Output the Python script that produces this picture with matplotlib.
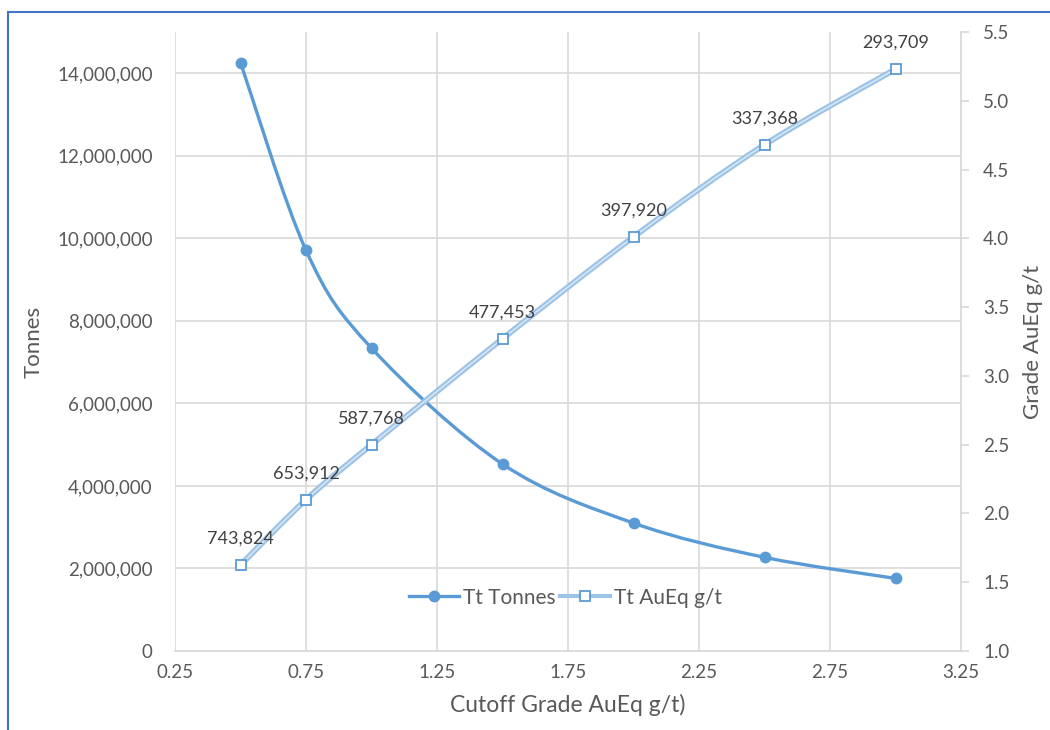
import matplotlib.pyplot as plt
import numpy as np
from matplotlib.path import Path
from matplotlib.patches import PathPatch
from matplotlib.lines import Line2D
from matplotlib.ticker import FuncFormatter

# data
cutoff = [0.5, 0.75, 1.0, 1.5, 2.0, 2.5, 3.0]
tonnes = [14260000, 9710000, 7340000, 4530000, 3100000, 2270000, 1760000]
grade = [1.625, 2.10, 2.50, 3.27, 4.01, 4.68, 5.23]
ounces = ["743,824", "653,912", "587,768", "477,453", "397,920", "337,368", "293,709"]

plt.rcParams['font.family'] = ['Lato', 'DejaVu Sans']
grey = '#595959'
gridc = '#D9D9D9'
blue = '#5B9BD5'
light = '#9DC3E6'


def smooth_path(x, y):
    # excel style smoothed line: cubic bezier through the points
    p = np.column_stack([x, y]).astype(float)
    verts = [p[0]]
    codes = [Path.MOVETO]
    n = len(p)
    for i in range(n - 1):
        p0 = p[i - 1] if i > 0 else p[i]
        p3 = p[i + 2] if i + 2 < n else p[i + 1]
        c1 = p[i] + (p[i + 1] - p0) / 6.0
        c2 = p[i + 1] - (p3 - p[i]) / 6.0
        verts += [c1, c2, p[i + 1]]
        codes += [Path.CURVE4] * 3
    return Path(verts, codes)


fig = plt.figure(figsize=(10.5, 7.3), dpi=100)
ax = fig.add_axes([175 / 1050, 1 - 651 / 730, 786 / 1050, 619 / 730])
ax2 = ax.twinx()

ax.set_xlim(0.25, 3.25)
ax.set_ylim(0, 15000000)
ax2.set_ylim(1.0, 5.5)

ax.set_xticks(np.arange(0.25, 3.26, 0.5))
ax.xaxis.set_major_formatter(FuncFormatter(lambda v, p: f"{v:.2f}"))
ax.set_yticks(np.arange(0, 14000001, 2000000))
ax.yaxis.set_major_formatter(FuncFormatter(lambda v, p: f"{v:,.0f}"))
ax2.set_yticks(np.arange(1.0, 5.51, 0.5))
ax2.yaxis.set_major_formatter(FuncFormatter(lambda v, p: f"{v:.1f}"))

ax.grid(True, color=gridc, lw=1.2)
ax.set_axisbelow(True)
for s in ['top', 'left', 'right']:
    ax.spines[s].set_visible(False)
    ax2.spines[s].set_visible(False)
ax.spines['bottom'].set_color(gridc)
ax.spines['bottom'].set_linewidth(1.2)
ax2.spines['bottom'].set_visible(False)
ax2.spines['right'].set_visible(True)
ax2.spines['right'].set_color(gridc)
ax2.spines['right'].set_linewidth(1.2)

ax.tick_params(axis='y', length=0, pad=16, labelsize=13.5, labelcolor=grey)
ax.tick_params(axis='x', length=0, pad=9, labelsize=13.5, labelcolor=grey)
ax2.tick_params(axis='y', length=6, width=1.2, color=gridc, pad=10, labelsize=13.5, labelcolor=grey)

ax.set_xlabel("Cutoff Grade AuEq g/t)", fontsize=16.5, color=grey, labelpad=10)
ax.set_ylabel("Tonnes", fontsize=16, color=grey, labelpad=10)
ax2.set_ylabel("Grade AuEq g/t", fontsize=16, color=grey, labelpad=10)

# tonnes curve
ax.add_patch(PathPatch(smooth_path(cutoff, tonnes), fc='none', ec=blue, lw=2.4, zorder=3))
ax.plot(cutoff, tonnes, ls='none', marker='o', ms=7.5, color=blue, zorder=4)

# grade curve (double line look)
ax2.add_patch(PathPatch(smooth_path(cutoff, grade), fc='none', ec=light, lw=4.2, zorder=3))
ax2.add_patch(PathPatch(smooth_path(cutoff, grade), fc='none', ec='#DEEBF7', lw=1.0, zorder=3))
ax2.plot(cutoff, grade, ls='none', marker='s', ms=7.5, mfc='white', mec=blue, mew=1.3, zorder=4)
for x, g, lab in zip(cutoff, grade, ounces):
    ax2.annotate(lab, (x, g), xytext=(0, 13), textcoords='offset points',
                 ha='center', va='bottom', fontsize=13, color='#404040')

h1 = Line2D([], [], color=blue, lw=2.4, marker='o', ms=7.5)
h2 = Line2D([], [], color=light, lw=3, marker='s', ms=7, mfc='white', mec=blue, mew=1.3)
ax2.legend([h1, h2], ["Tt Tonnes", "Tt AuEq g/t"], loc='center', bbox_to_anchor=(0.497, 0.086),
           ncol=2, frameon=False, fontsize=15, labelcolor=grey, handlelength=2.4,
           handletextpad=0.2, columnspacing=0.2)

# outer border of the chart box
fig.add_artist(Line2D([8 / 1050, 8 / 1050], [0, 1 - 12 / 730], transform=fig.transFigure, color='#4472C4', lw=1.5))
fig.add_artist(Line2D([8 / 1050, 1], [1 - 12 / 730, 1 - 12 / 730], transform=fig.transFigure, color='#4472C4', lw=1.5))

fig.savefig("out.png", dpi=100)
